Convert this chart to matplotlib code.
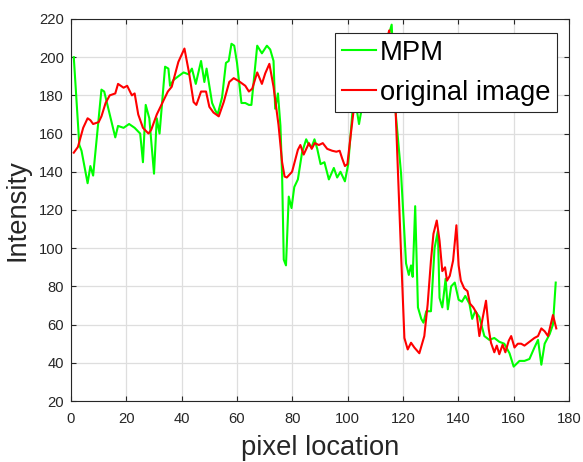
import matplotlib
matplotlib.use("Agg")
import matplotlib.pyplot as plt

plt.rcParams["font.family"] = ["Liberation Sans", "DejaVu Sans"]

# intensity profile along the scan line
mpm_x = [1, 3, 3.8, 6, 7, 8, 11, 12, 16, 17, 19, 21, 23, 25, 26, 27, 28.3, 30,
         31, 32, 34, 35.2, 35.8, 37, 38.8, 40.7, 42.5, 43.7, 45.1, 47, 48.2, 49,
         51, 52.2, 53, 54.6, 56, 57, 58, 59, 60, 61.6, 63, 64.3, 65.2, 67.3, 69,
         70.8, 72, 73.2, 73.8, 74.8, 75.7, 76.3, 76.9, 77.7, 78.7, 79.7, 80.7,
         82, 83.5, 85, 86, 87, 88, 89, 90.2, 91.6, 93.2, 95, 96.2, 97.4, 99,
         100.2, 101.7, 102.9, 104.1, 105.3, 107, 109, 111, 113, 114.5, 115.9,
         117.4, 119.3, 121.1, 122.1, 122.9, 123.5, 124.4, 125.4, 126.6, 127.4,
         128.4, 130.1, 131.4, 132.6, 133.2, 134.2, 135.4, 136.2, 137.4, 138.7,
         140.1, 141.3, 142.5, 144, 145, 146.1, 147.6, 149.4, 151.2, 153, 154.8,
         156.6, 158.5, 160, 162.1, 163.9, 165.7, 167.5, 168.8, 170, 171.2, 173,
         174.2, 175.2]
mpm_y = [200, 154, 151, 134, 143, 138, 183, 182, 158, 164, 163, 165, 163, 160,
         145, 175, 168, 139, 168, 160, 195, 194, 185, 188, 190, 192, 191, 194,
         186, 198, 187, 194, 176, 172, 170, 179, 197, 198, 207, 206, 197, 176,
         176, 175, 175, 206, 202, 206, 204, 198, 173, 181, 164, 138, 94, 91,
         127, 121, 132, 136, 150, 157, 154, 153, 157, 152, 144, 145, 136, 142,
         137, 140, 135, 144, 171, 176, 165, 175, 182, 190, 196, 203, 210, 217,
         170, 139, 92, 86, 91, 85, 122, 69, 63, 61, 67, 67, 100, 109, 74, 69,
         84, 68, 80, 82, 73, 72, 75, 71, 63, 67, 64, 54, 52, 53, 51, 50, 45,
         38, 41, 41, 42, 48, 52, 39, 50, 55, 60, 82]

orig_x = [1, 2.5, 4.4, 6, 7, 8, 10, 11, 12.5, 14, 16, 17, 19, 20.3, 22, 23,
          24.3, 26, 28, 29, 31, 33, 35, 36.4, 38.8, 41, 42.7, 44.3, 45.3, 47,
          48.8, 50, 51.5, 53.4, 55.2, 57.2, 58.8, 60.6, 63, 64.3, 65.5, 67.3,
          69, 70.2, 71.7, 73.2, 75, 76.3, 77.2, 78, 79.9, 81, 82, 82.9, 84.1,
          86, 87, 88.1, 89.6, 91, 92.6, 94.4, 95.9, 97.1, 98, 99, 99.9, 101,
          102.3, 104, 106, 108, 110, 112, 114, 115, 116, 117.2, 119.3, 120.5,
          121.7, 122.9, 124.1, 125.9, 127.7, 128.9, 130.1, 131, 132.2, 133.2,
          134.2, 135.2, 135.9, 136.9, 138.1, 139.3, 140.1, 140.9, 142.1, 143.3,
          144.2, 145.4, 146.6, 147.6, 148.8, 150, 151, 151.8, 153, 153.9, 154.8,
          156, 157, 158.2, 159.1, 160.3, 161.5, 162.7, 163.9, 165.7, 167.5,
          168.8, 170, 171.2, 172.4, 174.2, 175.4]
orig_y = [150, 153, 163, 168, 167, 165, 166, 169, 176, 180, 181, 186, 184, 185,
          180, 181, 170, 163, 160, 162, 170, 176, 182, 184.5, 197.5, 204.5,
          191.5, 176.5, 175, 182, 182, 174, 171, 169, 176.5, 187, 189, 187.5,
          185, 182, 183.5, 192, 186, 191.5, 196.5, 184.5, 164.5, 145, 137.5,
          137, 140, 146, 151.5, 154, 149, 155, 152, 155, 154, 155, 152, 151,
          150.5, 151, 147, 143, 144, 158, 174, 180, 186, 191, 195, 200, 208,
          214, 200, 177, 97, 53, 47, 50.5, 48, 45, 54, 70.5, 93.5, 107.5, 114.5,
          104, 88, 90, 83, 85.5, 93.5, 112, 91, 83, 79, 77.5, 71, 69, 66, 54,
          63.5, 72.5, 57.5, 50.5, 45.5, 49, 44.5, 49.5, 45.5, 51.5, 54, 48, 50,
          50, 49, 51, 53, 54, 58, 56.5, 54, 65, 58]

fig = plt.figure(figsize=(5.83, 4.62), dpi=100)
ax = fig.add_axes([0.1218, 0.132, 0.8542, 0.827])

ax.plot(mpm_x, mpm_y, color="#00ff00", lw=1.5, label="MPM")
ax.plot(orig_x, orig_y, color="#ff0000", lw=1.5, label="original image")

ax.set_xlim(0, 180)
ax.set_ylim(20, 220)
ax.set_xticks(range(0, 181, 20))
ax.set_yticks(range(20, 221, 20))
ax.grid(True, color="#dedede", lw=0.9)
ax.set_axisbelow(True)
ax.tick_params(direction="in", length=3.5, width=0.8, labelsize=10.6,
               colors="#262626", top=True, right=True)
ax.tick_params(axis="x", pad=8)
ax.tick_params(axis="y", pad=5)
for s in ax.spines.values():
	s.set_color("#262626")
	s.set_linewidth(0.8)

ax.set_xlabel("pixel location", fontsize=19.7, color="#262626", labelpad=6.5)
ax.set_ylabel("Intensity", fontsize=19.7, color="#262626", labelpad=6)

leg = ax.legend(loc="upper right", bbox_to_anchor=(0.976, 0.963),
                borderaxespad=0, fontsize=19.7, handlelength=1.22,
                handletextpad=0.15, borderpad=0.25, labelspacing=0.5,
                fancybox=False, framealpha=1, edgecolor="#262626")
leg.get_frame().set_linewidth(0.8)

plt.savefig("out.png", dpi=100)
plt.close()
